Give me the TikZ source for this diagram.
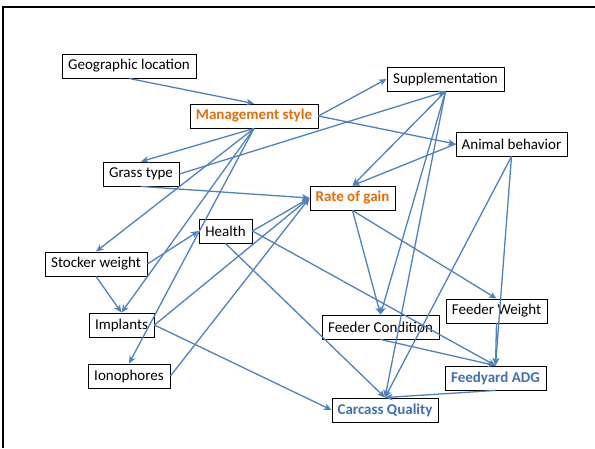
\documentclass[tikz,border=0pt]{standalone}
\usepackage{fontspec}
\setmainfont{Carlito}
\usetikzlibrary{arrows.meta}
\definecolor{linkblue}{HTML}{4F81BD}
\definecolor{keyorange}{HTML}{E46C0A}
\definecolor{endblue}{HTML}{3F6FB5}
\begin{document}
\begin{tikzpicture}[x=1pt,y=-1pt,
        box/.style={draw,line width=0.9pt,inner sep=0pt,minimum height=24pt,
            font=\fontsize{15}{17}\selectfont},
        keybox/.style={box,text=keyorange,font=\fontsize{15}{17}\selectfont\bfseries},
        endbox/.style={box,text=endblue,font=\fontsize{15}{17}\selectfont\bfseries},
        link/.style={linkblue,line width=1.3pt,-{Stealth[length=7.5pt,width=6.5pt,inset=2pt]}}]
    \useasboundingbox (0,0) rectangle (595,448);
    % frame, only top and left edges show
    \draw[line width=2.6pt] (3,448) -- (3,7) -- (595,7);
    % factors
    \node[box,minimum width=134pt] (geo) at (129,66) {Geographic location};
    \node[keybox,minimum width=128pt] (mgmt) at (254,116) {Management style};
    \node[box,minimum width=117pt] (supp) at (445.5,79) {Supplementation};
    \node[box,minimum width=111pt] (anim) at (511.5,144) {Animal behavior};
    \node[box,minimum width=76pt] (grass) at (141,174) {Grass type};
    \node[keybox,minimum width=85pt] (rog) at (352.5,198) {Rate of gain};
    \node[box,minimum width=53pt] (health) at (225.5,231) {Health};
    \node[box,minimum width=102pt] (stock) at (96,264) {Stocker weight};
    \node[box,minimum width=65pt] (impl) at (121.5,325) {Implants};
    \node[box,minimum width=82pt] (iono) at (129,376) {Ionophores};
    \node[box,minimum width=117pt] (fcond) at (380.5,327) {Feeder Condition};
    \node[box,minimum width=101pt] (fweight) at (496.5,311) {Feeder Weight};
    \node[endbox,minimum width=101pt] (adg) at (495.5,378) {Feedyard ADG};
    \node[endbox,minimum width=106pt] (carc) at (385,410) {Carcass Quality};
    % influences
    \draw[link] (geo.south) -- (mgmt.north);
    \draw[link] (mgmt.east) -- (supp.west);
    \draw[link] (mgmt.east) -- (anim.west);
    \foreach \t in {grass,stock,impl,iono}
        \draw[link] (mgmt.south) -- (\t.north);
    \draw[link] (grass.east) -- (supp.south);
    \draw[link] (grass.south) -- (rog.west);
    \foreach \t in {rog,fcond,carc}
        \draw[link] (supp.south) -- (\t.north);
    \draw[link] (anim.west) -- (rog.north);
    \draw[link] (anim.south) -- (adg.north);
    \draw[link] (anim.south) -- (carc.north);
    \draw[link] (rog.south) -- (fcond.north);
    \draw[link] (rog.south) -- (fweight.north);
    \draw[link] (stock.east) -- (health.west);
    \draw[link] (stock.south) -- (impl.north);
    \draw[link] (health.east) -- (rog.west);
    \draw[link] (health.east) -- (adg.north);
    \draw[link] (health.south) -- (carc.north);
    \draw[link] (impl.east) -- (rog.west);
    \draw[link] (impl.east) -- (carc.west);
    \draw[link] (iono.east) -- (rog.west);
    \draw[link] (fcond.south) -- (adg.north);
    \draw[link] (fweight.south) -- (adg.north);
    \draw[link] (adg.south) -- (carc.north);
\end{tikzpicture}
\end{document}
